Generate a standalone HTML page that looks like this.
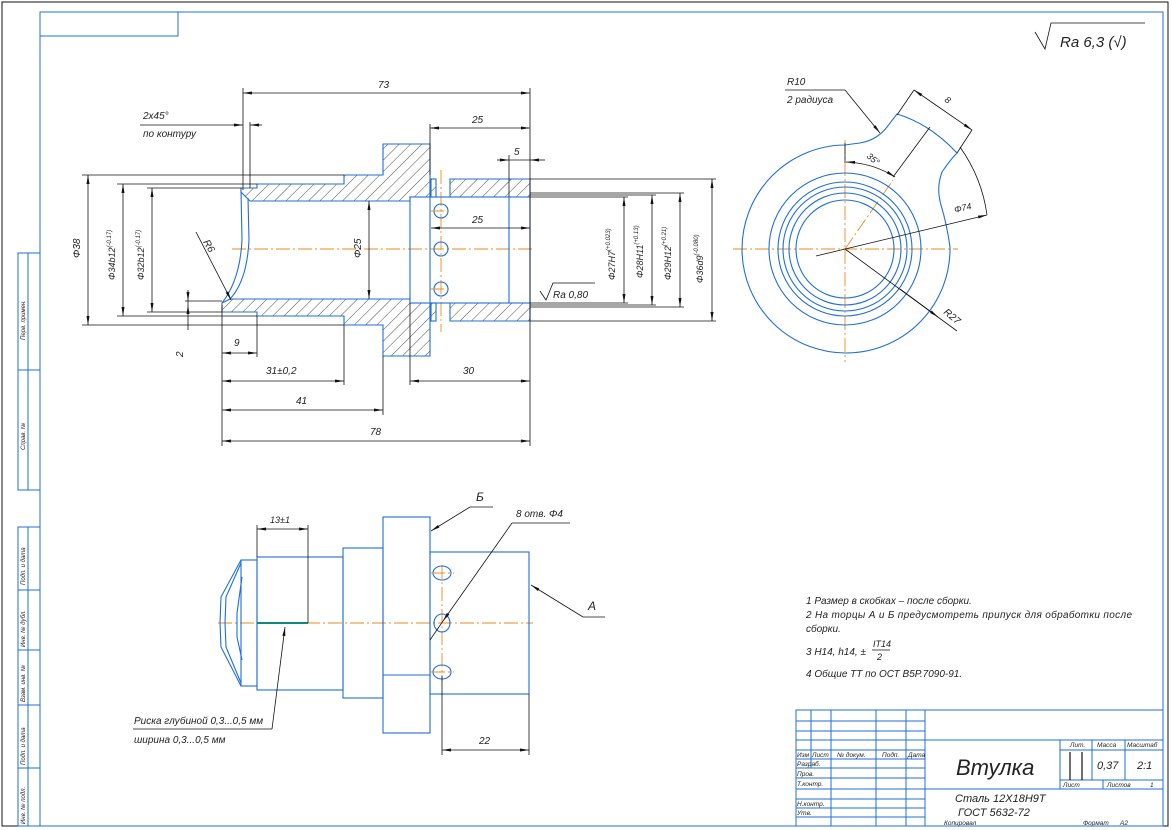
<!DOCTYPE html>
<html><head><meta charset="utf-8"><style>
html,body{margin:0;padding:0;background:#fff;}
svg{display:block;font-size:10px;}
text{font-family:"Liberation Sans","DejaVu Sans",sans-serif;font-style:italic;fill:#222;}
.b{stroke:#1f6fd8;stroke-width:1.1;fill:none;}
.k{stroke:#111;stroke-width:0.8;fill:none;}
.o{stroke:#f08a1c;stroke-width:0.9;fill:none;stroke-dasharray:14 3 2 3;}
.h{fill:url(#hat);stroke:#1f6fd8;stroke-width:1.1;}
.d{stroke:#111;stroke-width:0.8;fill:none;marker-start:url(#a);marker-end:url(#a);}
.d1{stroke:#111;stroke-width:0.8;fill:none;marker-end:url(#a);}
.f{stroke:#1f6fd8;stroke-width:1;fill:none;}
</style></head><body>
<svg width="1172" height="830" viewBox="0 0 1172 830" xmlns="http://www.w3.org/2000/svg">
<defs>
<pattern id="hat" patternUnits="userSpaceOnUse" width="8" height="8" patternTransform="rotate(45)">
<line x1="0" y1="0" x2="0" y2="8" stroke="#222" stroke-width="0.8"/>
</pattern>
<marker id="a" markerWidth="10" markerHeight="6" refX="9" refY="3" orient="auto-start-reverse" markerUnits="userSpaceOnUse">
<path d="M0,1.5 L9,3 L0,4.5 Z" fill="#111"/>
</marker>
</defs>

<rect x="2" y="2" width="1166" height="824" fill="none" stroke="#111" stroke-width="1"/>
<rect x="40" y="12" width="1123" height="814" class="f" stroke-width="1.2"/>
<rect x="40" y="12" width="138" height="24" class="f"/>
<rect x="18" y="253" width="22" height="237" class="f"/>
<line x1="28" y1="253" x2="28" y2="490" class="f"/>
<line x1="18" y1="370" x2="40" y2="370" class="f"/>
<rect x="18" y="527" width="22" height="299" class="f"/>
<line x1="28" y1="527" x2="28" y2="826" class="f"/>
<line x1="18" y1="590" x2="40" y2="590" class="f"/>
<line x1="18" y1="650" x2="40" y2="650" class="f"/>
<line x1="18" y1="705" x2="40" y2="705" class="f"/>
<line x1="18" y1="768" x2="40" y2="768" class="f"/>
<g font-size="6">
<text transform="translate(25,340) rotate(-90)">Перв. примен.</text>
<text transform="translate(25,450) rotate(-90)">Справ. №</text>
<text transform="translate(25,585) rotate(-90)">Подп. и дата</text>
<text transform="translate(25,647) rotate(-90)">Инв. № дубл.</text>
<text transform="translate(25,702) rotate(-90)">Взам. инв. №</text>
<text transform="translate(25,765) rotate(-90)">Подп. и дата</text>
<text transform="translate(25,824) rotate(-90)">Инв. № подл.</text>
</g>

<path d="M1035,32 L1045,49 L1051,23 L1145,23" class="k"/>
<text x="1060" y="47" font-size="15">Ra 6,3 (√)</text>

<!-- SECTION VIEW -->
<line x1="232" y1="249" x2="535" y2="249" class="o"/>
<line x1="441" y1="170" x2="441" y2="332" class="o" stroke-dasharray="10 2 2 2"/>
<polygon class="h" points="250,201 241,192 241,188 257,188 257,184 344,184 344,175 383,175 383,144 430,144 430,197 410,197 410,201"/>
<polygon class="h" points="230,299 410,299 410,303 430,303 430,356 383,356 383,325 344,325 344,316 257,316 257,312 222,312 222,303"/>
<polygon class="h" points="450,179 530,179 530,197 450,197"/>
<polygon class="h" points="450,303 530,303 530,321 450,321"/>
<rect x="431" y="179" width="5" height="18" class="h"/>
<rect x="431" y="303" width="5" height="18" class="h"/>
<rect x="410" y="197" width="120" height="106" class="b"/>
<line x1="430" y1="179" x2="430" y2="197" class="b"/>
<line x1="430" y1="303" x2="430" y2="321" class="b"/>
<line x1="509" y1="197" x2="509" y2="303" class="b"/>
<line x1="430" y1="197" x2="430" y2="303" class="b"/>
<path d="M241,190 L242,240 Q240,280 222,303" class="b"/>
<path d="M248,198 L249,240 Q247,282 229,300" class="b"/>
<circle cx="441" cy="211" r="7" class="b"/>
<circle cx="441" cy="249" r="7" class="b"/>
<circle cx="441" cy="289" r="7" class="b"/>
<g class="o" stroke-dasharray="none">
<line x1="430" y1="211" x2="452" y2="211"/><line x1="430" y1="289" x2="452" y2="289"/>
</g>

<line x1="243" y1="88" x2="243" y2="190" class="k"/>
<line x1="530" y1="88" x2="530" y2="446" class="k"/>
<line x1="243" y1="93" x2="530" y2="93" class="d"/>
<text x="378" y="88">73</text>
<line x1="430" y1="124" x2="430" y2="175" class="k"/>
<line x1="430" y1="128" x2="530" y2="128" class="d"/>
<text x="472" y="123">25</text>
<line x1="509" y1="155" x2="509" y2="197" class="k"/>
<line x1="497" y1="160" x2="509" y2="160" class="d1"/>
<line x1="545" y1="160" x2="530" y2="160" class="d1"/>
<line x1="509" y1="160" x2="530" y2="160" class="k"/>
<text x="514" y="155">5</text>
<line x1="140" y1="125" x2="232" y2="125" class="k"/>
<line x1="232" y1="125" x2="243" y2="125" class="d1"/>
<line x1="262" y1="125" x2="250" y2="125" class="d1"/>
<line x1="250" y1="122" x2="250" y2="188" class="k"/>
<text x="143" y="119">2x45°</text>
<text x="143" y="137">по контуру</text>
<line x1="431" y1="228" x2="530" y2="228" class="d"/>
<text x="472" y="223">25</text>
<line x1="369" y1="201" x2="369" y2="299" class="d"/>
<text transform="translate(361,258) rotate(-90)">Φ25</text>
<line x1="530" y1="179" x2="716" y2="179" class="k"/>
<line x1="530" y1="321" x2="716" y2="321" class="k"/>
<line x1="530" y1="193" x2="684" y2="193" class="k"/>
<line x1="530" y1="307" x2="684" y2="307" class="k"/>
<line x1="530" y1="195" x2="656" y2="195" class="k"/>
<line x1="530" y1="305" x2="656" y2="305" class="k"/>
<line x1="530" y1="197" x2="628" y2="197" class="k"/>
<line x1="530" y1="303" x2="628" y2="303" class="k"/>
<line x1="624" y1="197" x2="624" y2="303" class="d"/>
<line x1="652" y1="195" x2="652" y2="305" class="d"/>
<line x1="680" y1="193" x2="680" y2="307" class="d"/>
<line x1="712" y1="179" x2="712" y2="321" class="d"/>
<text transform="translate(615,280) rotate(-90)" font-size="9">Φ27H7<tspan font-size="6" dy="-5">(+0.023)</tspan></text>
<text transform="translate(643,278) rotate(-90)" font-size="9">Φ28H11<tspan font-size="6" dy="-5">(+0.13)</tspan></text>
<text transform="translate(671,280) rotate(-90)" font-size="9">Φ29H12<tspan font-size="6" dy="-5">(+0.21)</tspan></text>
<text transform="translate(703,283) rotate(-90)" font-size="9">Φ36d9<tspan font-size="6" dy="-5">(-0.080)</tspan></text>
<path d="M540,291 L546,300 L553,283 L595,283" class="k"/>
<text x="553" y="298">Ra 0,80</text>
<line x1="82" y1="175" x2="344" y2="175" class="k"/>
<line x1="82" y1="325" x2="344" y2="325" class="k"/>
<line x1="117" y1="184" x2="257" y2="184" class="k"/>
<line x1="117" y1="316" x2="257" y2="316" class="k"/>
<line x1="147" y1="188" x2="241" y2="188" class="k"/>
<line x1="147" y1="312" x2="222" y2="312" class="k"/>
<line x1="88" y1="175" x2="88" y2="325" class="d"/>
<line x1="123" y1="184" x2="123" y2="316" class="d"/>
<line x1="152" y1="188" x2="152" y2="312" class="d"/>
<text transform="translate(80,258) rotate(-90)">Φ38</text>
<text transform="translate(115,280) rotate(-90)" font-size="9">Φ34b12<tspan font-size="6" dy="-4">(-0.17)</tspan></text>
<text transform="translate(144,280) rotate(-90)" font-size="9">Φ32b12<tspan font-size="6" dy="-4">(-0.17)</tspan></text>
<line x1="196" y1="232" x2="231" y2="300" class="d1"/>
<text transform="translate(203,242) rotate(60)">R6</text>
<line x1="185" y1="301" x2="222" y2="301" class="k"/>
<line x1="188" y1="290" x2="188" y2="301" class="d1"/>
<line x1="188" y1="330" x2="188" y2="305" class="d1"/>
<line x1="188" y1="301" x2="188" y2="305" class="k"/>
<text transform="translate(183,357) rotate(-90)">2</text>
<line x1="222" y1="305" x2="222" y2="446" class="k"/>
<line x1="257" y1="316" x2="257" y2="357" class="k"/>
<line x1="344" y1="325" x2="344" y2="385" class="k"/>
<line x1="383" y1="356" x2="383" y2="415" class="k"/>
<line x1="410" y1="303" x2="410" y2="385" class="k"/>
<line x1="222" y1="353" x2="257" y2="353" class="d"/>
<text x="234" y="346">9</text>
<line x1="222" y1="381" x2="344" y2="381" class="d"/>
<text x="266" y="374">31±0,2</text>
<line x1="410" y1="381" x2="530" y2="381" class="d"/>
<text x="463" y="374">30</text>
<line x1="222" y1="410" x2="383" y2="410" class="d"/>
<text x="296" y="404">41</text>
<line x1="222" y1="441" x2="530" y2="441" class="d"/>
<text x="370" y="435">78</text>

<!-- RIGHT VIEW -->
<line x1="733" y1="249" x2="958" y2="249" class="o"/>
<line x1="845" y1="140" x2="845" y2="362" class="o"/>
<line x1="845" y1="249" x2="893" y2="180" class="o" stroke-dasharray="8 2 2 2"/>
<circle cx="845" cy="249" r="76" class="b"/>
<circle cx="845" cy="249" r="67" class="b"/>
<circle cx="845" cy="249" r="62" class="b"/>
<circle cx="845" cy="249" r="56" class="b"/>
<circle cx="845" cy="249" r="49" class="b"/>
<path d="M845,145 A104,104 0 1 0 950,247 Q947,225 941,205 Q936,188 942,172 Q950,160 957,153 Q930,124 897,114 L887,127 Q877,140 860,143 Q852,144 845,145 Z" class="b"/>
<line x1="845" y1="143" x2="845" y2="163" class="k"/>
<line x1="893" y1="177" x2="930" y2="127" class="k"/>
<path d="M846,162 Q873,163 895,177" class="d"/>
<text transform="translate(866,157) rotate(40)" font-size="9">35°</text>
<line x1="914" y1="90" x2="897" y2="115" class="k"/>
<line x1="972" y1="130" x2="957" y2="153" class="k"/>
<line x1="914" y1="90" x2="972" y2="130" class="d"/>
<text transform="translate(944,101) rotate(35)" font-size="9">8</text>
<path d="M960,147 Q982,178 987,215" class="k"/>
<line x1="816" y1="256" x2="987" y2="215" class="d1"/>
<text transform="translate(955,213) rotate(-14)" font-size="9">Φ74</text>
<line x1="845" y1="249" x2="957" y2="331" class="k"/>
<line x1="900" y1="289" x2="938" y2="317" class="d1"/>
<text transform="translate(943,313) rotate(40)">R27</text>
<line x1="785" y1="90" x2="845" y2="90" class="k"/>
<line x1="845" y1="90" x2="880" y2="133" class="d1"/>
<text x="787" y="85">R10</text>
<text x="787" y="103">2 радиуса</text>

<!-- BOTTOM VIEW -->
<line x1="218" y1="623" x2="533" y2="623" class="o"/>
<line x1="442" y1="565" x2="442" y2="682" class="o" stroke-dasharray="10 2 2 2"/>
<rect x="241" y="560" width="16" height="126" class="b"/>
<path d="M241,560 L221,597 L220,623 L221,647 L241,686" class="b"/>
<path d="M241,563 L226,597 L225,623 L226,647 L241,683" class="b"/>
<path d="M242,577 L237,613 L237,637 L242,660" class="b"/>
<rect x="257" y="557" width="86" height="133" class="b"/>
<rect x="343" y="548" width="40" height="150" class="b"/>
<rect x="383" y="517" width="47" height="216" class="b"/>
<line x1="383" y1="675" x2="430" y2="675" class="b"/>
<rect x="430" y="552" width="99" height="142" class="b"/>
<line x1="257" y1="623" x2="308" y2="623" stroke="#11897a" stroke-width="2"/>
<ellipse cx="442" cy="573" rx="9" ry="7" class="b"/>
<ellipse cx="442" cy="623" rx="8" ry="9" class="b"/>
<ellipse cx="442" cy="672" rx="9" ry="7" class="b"/>
<g class="o" stroke-dasharray="none"><line x1="431" y1="573" x2="454" y2="573"/><line x1="431" y1="672" x2="454" y2="672"/></g>
<line x1="257" y1="525" x2="257" y2="557" class="k"/>
<line x1="308" y1="525" x2="308" y2="623" class="k"/>
<line x1="257" y1="529" x2="308" y2="529" class="d"/>
<text x="270" y="523" font-size="9">13±1</text>
<line x1="493" y1="507" x2="470" y2="507" class="k"/>
<line x1="470" y1="507" x2="431" y2="531" class="d1"/>
<text x="476" y="501" font-size="12">Б</text>
<line x1="570" y1="523" x2="512" y2="523" class="k"/>
<line x1="512" y1="523" x2="443" y2="621" class="d1"/>
<line x1="443" y1="621" x2="430" y2="640" class="k"/>
<text x="516" y="517">8 отв. Φ4</text>
<line x1="605" y1="617" x2="583" y2="617" class="k"/>
<line x1="583" y1="617" x2="531" y2="585" class="d1"/>
<text x="588" y="610" font-size="12">A</text>
<line x1="442" y1="676" x2="442" y2="755" class="k"/>
<line x1="529" y1="694" x2="529" y2="755" class="k"/>
<line x1="442" y1="750" x2="529" y2="750" class="d"/>
<text x="479" y="744">22</text>
<line x1="133" y1="729" x2="272" y2="729" class="k"/>
<line x1="272" y1="729" x2="285" y2="627" class="d1"/>
<text x="134" y="724">Риска глубиной 0,3...0,5 мм</text>
<text x="134" y="743">ширина 0,3...0,5 мм</text>

<!-- notes -->
<g font-size="10">
<text x="806" y="604">1 Размер в скобках – после сборки.</text>
<text x="806" y="618" textLength="326" lengthAdjust="spacing">2 На торцы А и Б предусмотреть припуск для обработки после</text>
<text x="806" y="632">сборки.</text>
<text x="806" y="655">3 H14, h14, ±</text>
<text x="873" y="647" font-size="9">IT14</text>
<line x1="872" y1="650" x2="890" y2="650" class="k"/>
<text x="877" y="660" font-size="9">2</text>
<text x="806" y="677">4 Общие ТТ по ОСТ В5Р.7090-91.</text>
</g>

<!-- title block -->
<g class="f">
<rect x="796" y="710" width="367" height="116"/>
<line x1="925" y1="710" x2="925" y2="826"/>
<line x1="811" y1="710" x2="811" y2="768"/>
<line x1="831" y1="710" x2="831" y2="826"/>
<line x1="876" y1="710" x2="876" y2="826"/>
<line x1="906" y1="710" x2="906" y2="826"/>
<line x1="796" y1="721" x2="925" y2="721"/>
<line x1="796" y1="731" x2="925" y2="731"/>
<line x1="796" y1="740" x2="1163" y2="740"/>
<line x1="796" y1="750" x2="925" y2="750"/>
<line x1="796" y1="759" x2="925" y2="759"/>
<line x1="796" y1="768" x2="925" y2="768"/>
<line x1="796" y1="778" x2="925" y2="778"/>
<line x1="796" y1="789" x2="1163" y2="789"/>
<line x1="796" y1="799" x2="925" y2="799"/>
<line x1="796" y1="808" x2="925" y2="808"/>
<line x1="796" y1="817" x2="925" y2="817"/>
<line x1="1060" y1="740" x2="1060" y2="789"/>
<line x1="1092" y1="740" x2="1092" y2="780"/>
<line x1="1125" y1="740" x2="1125" y2="780"/>
<line x1="1060" y1="750" x2="1163" y2="750"/>
<line x1="1060" y1="780" x2="1163" y2="780"/>
<line x1="1103" y1="780" x2="1103" y2="789"/>
</g>
<line x1="1070" y1="752" x2="1070" y2="780" stroke="#111" stroke-width="1.2"/>
<line x1="1082" y1="752" x2="1082" y2="780" stroke="#111" stroke-width="1.2"/>
<g font-size="6.5">
<text x="797" y="757">Изм</text><text x="812" y="757">Лист</text><text x="837" y="757">№ докум.</text><text x="882" y="757">Подп.</text><text x="908" y="757">Дата</text>
<text x="797" y="766">Разраб.</text><text x="797" y="776">Пров.</text><text x="797" y="786">Т.контр.</text>
<text x="797" y="806">Н.контр.</text><text x="797" y="815">Утв.</text>
<text x="1070" y="747">Лит.</text><text x="1097" y="747">Масса</text><text x="1127" y="747">Масштаб</text>
<text x="1063" y="787">Лист</text><text x="1107" y="787">Листов</text><text x="1150" y="787">1</text>
<text x="944" y="825">Копировал</text><text x="1083" y="825">Формат</text><text x="1120" y="825">А2</text>
</g>
<text x="956" y="775" font-size="22">Втулка</text>
<text x="1097" y="769" font-size="11">0,37</text>
<text x="1137" y="769" font-size="11">2:1</text>
<text x="955" y="802" font-size="11">Сталь 12Х18Н9Т</text>
<text x="958" y="816" font-size="11">ГОСТ 5632-72</text>
</svg>
</body></html>
